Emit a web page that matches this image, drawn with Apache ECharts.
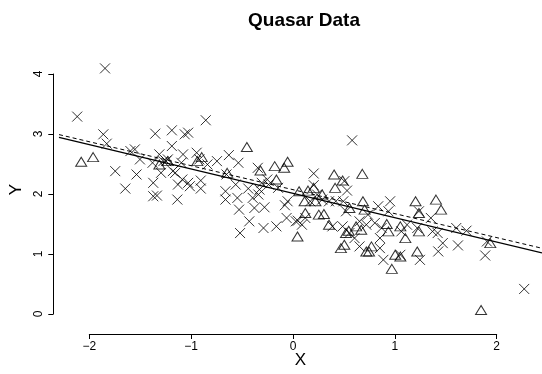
<!DOCTYPE html>
<html>
<head>
<meta charset="utf-8">
<script src="https://cdn.jsdelivr.net/npm/echarts@6/dist/echarts.min.js"></script>
<style>
  html, body { margin: 0; padding: 0; background: #fff; }
  #chart { width: 542px; height: 374px; }
</style>
</head>
<body>
<div id="chart"></div>
<script>
// Quasar sample: two groups of (X, Y) observations
const crossPoints = [
  [-1.893, 4.091], [-2.171, 3.276], [-1.910, 2.976], [-1.876, 2.818], [-1.791, 2.354],
  [-1.690, 2.059], [-1.639, 2.693], [-1.595, 2.721], [-1.578, 2.297], [-1.544, 2.552],
  [-1.391, 2.987], [-1.418, 2.495], [-1.411, 2.156], [-1.411, 1.929], [-1.374, 1.941],
  [-1.350, 2.637], [-1.333, 2.325], [-1.310, 2.523], [-1.282, 2.523], [-1.265, 2.552],
  [-1.225, 3.044], [-1.225, 2.778], [-1.215, 2.354], [-1.191, 2.325], [-1.170, 1.873],
  [-1.164, 2.127], [-1.130, 2.495], [-1.113, 2.637], [-1.120, 2.212], [-1.096, 2.976],
  [-1.062, 3.004], [-1.062, 2.156], [-1.045, 2.099], [-0.977, 2.665], [-0.936, 2.195],
  [-0.936, 2.059], [-0.950, 2.552], [-0.886, 3.214], [-0.869, 2.467], [-0.774, 2.523],
  [-0.689, 2.014], [-0.689, 1.873], [-0.679, 2.297], [-0.655, 2.625], [-0.587, 2.127],
  [-0.570, 1.901], [-0.560, 2.495], [-0.553, 1.703], [-0.543, 1.307], [-0.451, 1.505],
  [-0.461, 2.059], [-0.417, 1.901], [-0.400, 1.731], [-0.366, 2.410], [-0.360, 1.958],
  [-0.349, 2.042], [-0.326, 2.156], [-0.309, 1.392], [-0.299, 1.743], [-0.271, 2.212],
  [-0.258, 2.127], [-0.180, 1.420], [-0.163, 2.071], [-0.095, 1.777], [-0.068, 1.844],
  [-0.078, 1.562], [0.014, 1.505], [0.034, 1.516], [0.075, 1.448], [0.109, 1.562],
  [0.159, 1.844], [0.193, 2.314], [0.193, 2.116], [0.227, 1.958], [0.278, 1.873],
  [0.346, 1.844], [0.380, 1.420], [0.414, 1.844], [0.499, 2.184], [0.526, 2.025],
  [0.489, 1.844], [0.516, 1.675], [0.577, 2.874], [0.482, 1.420], [0.550, 1.307],
  [0.601, 1.222], [0.651, 1.081], [0.651, 1.505], [0.719, 1.448], [0.736, 1.618],
  [0.804, 1.477], [0.838, 1.760], [0.855, 1.222], [0.855, 1.052], [0.889, 0.854],
  [0.872, 1.392], [0.940, 1.675], [0.957, 1.844], [1.059, 0.939], [1.069, 1.335],
  [1.126, 1.448], [1.228, 1.392], [1.255, 0.854], [1.245, 1.675], [1.364, 1.562],
  [1.381, 1.335], [1.432, 1.307], [1.438, 0.996], [1.483, 1.137], [1.618, 1.392],
  [1.635, 1.098], [1.720, 1.347], [1.907, 0.928], [1.924, 1.165], [2.297, 0.362]
];

const trianglePoints = [
  [-2.131, 2.512], [-2.012, 2.591], [-1.350, 2.467], [-1.265, 2.523], [-0.672, 2.325],
  [-0.475, 2.761], [-0.926, 2.591], [-0.970, 2.523], [-0.339, 2.365], [-0.197, 2.438],
  [-0.180, 2.212], [-0.102, 2.410], [-0.068, 2.512], [0.031, 1.250], [0.047, 2.014],
  [0.109, 1.646], [0.102, 1.844], [0.136, 2.025], [0.193, 2.071], [0.210, 1.844],
  [0.278, 1.958], [0.244, 1.618], [0.295, 1.629], [0.346, 1.448], [0.397, 2.297],
  [0.407, 2.071], [0.482, 2.195], [0.465, 1.052], [0.499, 1.109], [0.516, 1.307],
  [0.543, 1.347], [0.550, 1.731], [0.617, 1.420], [0.668, 1.364], [0.679, 2.308],
  [0.685, 1.844], [0.702, 1.703], [0.719, 0.996], [0.746, 0.996], [0.770, 1.081],
  [0.923, 1.460], [0.940, 1.335], [0.974, 0.702], [1.008, 0.939], [1.059, 0.911],
  [1.059, 1.420], [1.109, 1.222], [1.211, 1.844], [1.228, 0.996], [1.245, 1.646],
  [1.245, 1.335], [1.415, 1.873], [1.466, 1.703], [1.866, 0.006], [1.958, 1.137]
];

// Fitted lines: [intercept, slope]
const fitSolid = [1.973, -0.404];
const fitDashed = [2.035, -0.398];

const xTicks = [-2, -1, 0, 1, 2];
const yTicks = [0, 1, 2, 3, 4];

// Plot-region data limits (range padded by 4%)
const xLim = [-2.353, 2.475];
const yLim = [-0.163, 4.243];

const FONT = '"Liberation Sans", Arial, Helvetica, sans-serif';

function fitLine(coef) {
  return xLim.map(x => [x, coef[0] + coef[1] * x]);
}

const chart = echarts.init(document.getElementById('chart'), null, { renderer: 'canvas' });

const crossPath = 'path://M0,0L10,10M10,0L0,10';

chart.setOption({
  animation: false,
  backgroundColor: '#ffffff',
  title: {
    text: 'Quasar Data',
    left: 299,
    textAlign: 'center',
    top: 6,
    textStyle: { fontFamily: FONT, fontWeight: 'bold', fontSize: 19, color: '#000' }
  },
  grid: [
    // main plotting region
    { left: 53.3, top: 59.4, width: 491.7, height: 264.4 },
    // y axis strip
    { left: 53.3, top: 74, width: 1, height: 240 },
    // x axis strip
    { left: 89.3, top: 333, width: 407.4, height: 1 }
  ],
  xAxis: [
    {
      gridIndex: 0, type: 'value', min: xLim[0], max: xLim[1],
      name: 'X', nameLocation: 'middle', nameGap: 32,
      nameTextStyle: { fontFamily: FONT, fontSize: 17, color: '#000' },
      axisLine: { show: false }, axisTick: { show: false },
      axisLabel: { show: false }, splitLine: { show: false }
    },
    { gridIndex: 1, type: 'value', show: false, min: 0, max: 1 },
    {
      gridIndex: 2, type: 'value', position: 'bottom',
      min: xTicks[0], max: xTicks[xTicks.length - 1], interval: 1,
      axisLine: { show: true, onZero: false, lineStyle: { color: '#000', width: 1 } },
      axisTick: { show: true, inside: false, length: 5, lineStyle: { color: '#000' } },
      axisLabel: {
        margin: 7, fontFamily: FONT, fontSize: 12, color: '#000',
        formatter: v => (v < 0 ? '\u2212' + Math.abs(v) : String(v))
      },
      splitLine: { show: false }
    }
  ],
  yAxis: [
    {
      gridIndex: 0, type: 'value', min: yLim[0], max: yLim[1],
      name: 'Y', nameLocation: 'middle', nameGap: 34, nameRotate: 90,
      nameTextStyle: { fontFamily: FONT, fontSize: 17, color: '#000' },
      axisLine: { show: false }, axisTick: { show: false },
      axisLabel: { show: false }, splitLine: { show: false }
    },
    {
      gridIndex: 1, type: 'value', position: 'left',
      min: yTicks[0], max: yTicks[yTicks.length - 1], interval: 1,
      axisLine: { show: true, onZero: false, lineStyle: { color: '#000', width: 1 } },
      axisTick: { show: true, inside: false, length: 5, lineStyle: { color: '#000' } },
      axisLabel: { rotate: 90, margin: 9, fontFamily: FONT, fontSize: 12, color: '#000' },
      splitLine: { show: false }
    },
    { gridIndex: 2, type: 'value', show: false, min: 0, max: 1 }
  ],
  series: [
    {
      type: 'line', xAxisIndex: 0, yAxisIndex: 0, data: fitLine(fitSolid),
      showSymbol: false, symbol: 'none', clip: true,
      lineStyle: { color: '#000', width: 1.3, type: 'solid' }, z: 3
    },
    {
      type: 'line', xAxisIndex: 0, yAxisIndex: 0, data: fitLine(fitDashed),
      showSymbol: false, symbol: 'none', clip: true,
      lineStyle: { color: '#000', width: 1, type: [4, 3] }, z: 3
    },
    {
      type: 'scatter', xAxisIndex: 0, yAxisIndex: 0, data: crossPoints,
      symbol: crossPath, symbolSize: 10,
      itemStyle: { color: 'rgba(0,0,0,0)', borderColor: '#000', borderWidth: 1 }, z: 4
    },
    {
      type: 'scatter', xAxisIndex: 0, yAxisIndex: 0, data: trianglePoints,
      symbol: 'triangle', symbolSize: [11, 9],
      itemStyle: { color: 'rgba(0,0,0,0)', borderColor: '#000', borderWidth: 1 }, z: 4
    }
  ]
});
</script>
</body>
</html>
